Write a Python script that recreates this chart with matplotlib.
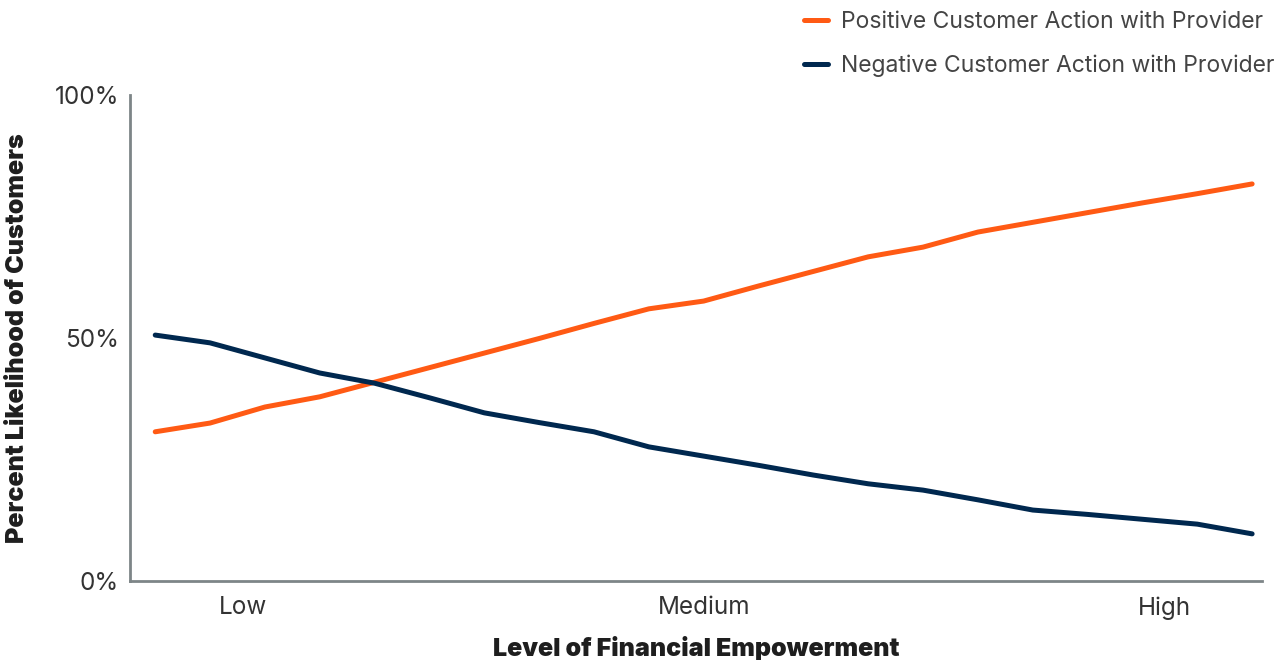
import matplotlib.pyplot as plt
import numpy as np

plt.rcParams['font.family'] = ['Inter', 'DejaVu Sans']

# readings along the empowerment scale (21 steps, low -> high)
steps = np.arange(21)
positive = [30.7, 32.5, 35.8, 37.9, 40.9, 43.9, 46.9, 49.9, 53.0, 56.0, 57.6,
            60.7, 63.7, 66.7, 68.7, 71.8, 73.8, 75.8, 77.8, 79.7, 81.7]
negative = [50.6, 49.0, 45.9, 42.8, 40.7, 37.7, 34.6, 32.6, 30.7, 27.6, 25.7,
            23.8, 21.8, 20.0, 18.7, 16.7, 14.6, 13.7, 12.7, 11.7, 9.7]
level_ticks = [1.6, 10.0, 18.4]
level_labels = ['Low', 'Medium', 'High']
pct_ticks = [0, 50, 100]
pct_labels = ['0%', '50%', '100%']

orange = '#FF5A14'
navy = '#00284F'
grey = '#7D8587'

fig = plt.figure(figsize=(12.82, 6.6), dpi=100)
ax = fig.add_axes([130 / 1282, 79 / 660, 1132 / 1282, 486 / 660])

ax.plot(steps, positive, color=orange, lw=3.6, solid_capstyle='round',
        label='Positive Customer Action with Provider')
ax.plot(steps, negative, color=navy, lw=3.6, solid_capstyle='round',
        label='Negative Customer Action with Provider')

ax.set_xlim(-0.46, 20.18)
ax.set_ylim(0, 100)
ax.set_xticks(level_ticks)
ax.set_xticklabels(level_labels)
ax.set_yticks(pct_ticks)
ax.set_yticklabels(pct_labels)
ax.tick_params(axis='both', length=0, labelsize=17.5, labelcolor='#333333')
ax.tick_params(axis='x', pad=11)
ax.tick_params(axis='y', pad=8)

for side in ['top', 'right']:
    ax.spines[side].set_visible(False)
for side in ['left', 'bottom']:
    ax.spines[side].set_color(grey)
    ax.spines[side].set_linewidth(2)

ax.set_xlabel('Level of Financial Empowerment', fontsize=18, fontweight='black',
              color='#1E1E1E', labelpad=12)
ax.set_ylabel('Percent Likelihood of Customers', fontsize=18, fontweight='black',
              color='#1E1E1E', labelpad=18)

leg = fig.legend(loc='upper left', bbox_to_anchor=(795 / 1282, 1 - 2 / 660),
                 frameon=False, fontsize=16.5, handlelength=1.05,
                 handletextpad=0.55, labelspacing=0.95, borderaxespad=0)
for t in leg.get_texts():
    t.set_color('#444444')

fig.savefig('out.png', dpi=100)
